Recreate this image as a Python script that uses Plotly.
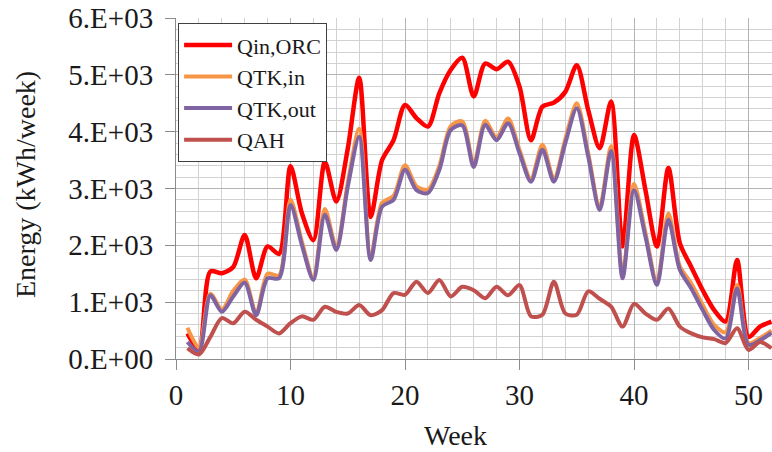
import plotly.graph_objects as go

weeks = list(range(1, 53))

q_in_orc = [450, 170, 1540, 1510, 1620, 2180, 1420, 1980, 1850, 3390,
            2560, 2090, 3470, 2770, 3700, 4950, 2500, 3500, 3850, 4470,
            4240, 4090, 4680, 5090, 5300, 4620, 5200, 5100, 5230, 4790,
            3850, 4440, 4510, 4700, 5170, 4380, 3710, 4530, 1980, 3940,
            2970, 1980, 3360, 2040, 1620, 1210, 860, 660, 1740, 390,
            570, 660]

q_tk_in = [550, 200, 1150, 870, 1200, 1400, 800, 1500, 1470, 2800,
           2060, 1430, 2640, 1970, 3100, 4050, 1790, 2750, 2870, 3410,
           3040, 2980, 3400, 4100, 4180, 3430, 4190, 3900, 4230, 3680,
           3170, 3770, 3170, 3870, 4500, 3620, 2670, 3750, 1480, 3080,
           2220, 1350, 2560, 1630, 1330, 950, 600, 470, 1300, 280,
           370, 500]

q_tk_out = [300, 130, 1120, 830, 1100, 1340, 770, 1420, 1420, 2710,
            2000, 1390, 2540, 1920, 3030, 3910, 1740, 2680, 2800, 3330,
            2970, 2920, 3330, 4030, 4110, 3380, 4120, 3850, 4150, 3620,
            3120, 3680, 3120, 3800, 4410, 3560, 2620, 3660, 1420, 2970,
            2150, 1300, 2450, 1570, 1240, 860, 510, 360, 1240, 250,
            330, 460]

q_ah = [190, 80, 390, 720, 630, 830, 690, 570, 450, 630,
        750, 690, 920, 830, 800, 950, 770, 860, 1160, 1130,
        1360, 1160, 1390, 1100, 1270, 1210, 1070, 1270, 1120, 1300,
        750, 780, 1360, 800, 780, 1190, 1060, 920, 570, 970,
        800, 690, 890, 570, 450, 380, 350, 280, 540, 160,
        300, 190]

series_names = ["Qin,ORC", "QTK,in", "QTK,out", "QAH"]
series_colors = ["#FF0000", "#F79646", "#8064A2", "#C0504D"]
series_values = [q_in_orc, q_tk_in, q_tk_out, q_ah]
series_widths = [4.5, 4, 4, 4]

y_tick_vals = [0, 1000, 2000, 3000, 4000, 5000, 6000]
y_tick_text = ["0.E+00", "1.E+03", "2.E+03", "3.E+03", "4.E+03", "5.E+03", "6.E+03"]
x_tick_vals = [0, 10, 20, 30, 40, 50]

FONT = "Liberation Serif, Times New Roman, serif"

fig = go.Figure()
for name, color, vals, w in zip(series_names, series_colors, series_values, series_widths):
    fig.add_trace(go.Scatter(
        x=weeks, y=vals, name=name, mode="lines",
        line=dict(color=color, width=w, shape="spline", smoothing=0.8),
    ))

fig.update_layout(
    width=772, height=452,
    margin=dict(l=176, r=0, t=18, b=93),
    paper_bgcolor="white", plot_bgcolor="white",
    font=dict(family=FONT, color="#1a1a1a", size=28),
    showlegend=True,
    legend=dict(
        x=0.0035, y=0.985, xanchor="left", yanchor="top",
        bgcolor="white", bordercolor="#404040", borderwidth=1,
        font=dict(family=FONT, size=22, color="#1a1a1a"),
        itemwidth=48, tracegroupgap=0,
    ),
    xaxis=dict(
        range=[0, 52.05], tickvals=x_tick_vals,
        showgrid=True, gridcolor="#B4B4B4", gridwidth=1,
        minor=dict(dtick=2, tick0=0, showgrid=True, gridcolor="#D2D2D2", gridwidth=1),
        showline=True, linecolor="#8C8C8C", linewidth=1,
        ticks="outside", ticklen=10, tickcolor="#8C8C8C",
        tickfont=dict(family=FONT, size=29),
        zeroline=False, fixedrange=True,
    ),
    yaxis=dict(
        range=[0, 6000], tickvals=y_tick_vals, ticktext=y_tick_text,
        showgrid=True, gridcolor="#B4B4B4", gridwidth=1,
        minor=dict(dtick=200, tick0=0, showgrid=True, gridcolor="#D2D2D2", gridwidth=1),
        showline=True, linecolor="#8C8C8C", linewidth=1,
        ticks="outside", ticklen=10, tickcolor="#8C8C8C",
        tickfont=dict(family=FONT, size=29),
        ticklabelstandoff=6,
        zeroline=False, fixedrange=True,
    ),
    annotations=[
        dict(text="Energy (kWh/week)", xref="paper", yref="paper",
             x=(25 - 176) / 596, y=0.51, xanchor="center", yanchor="middle",
             textangle=-90, showarrow=False, font=dict(family=FONT, size=28)),
        dict(text="Week", xref="paper", yref="paper",
             x=(455 - 176) / 596, y=(359 - 435) / 341, xanchor="center", yanchor="middle",
             showarrow=False, font=dict(family=FONT, size=28)),
    ],
)

fig.write_html("out.html")
